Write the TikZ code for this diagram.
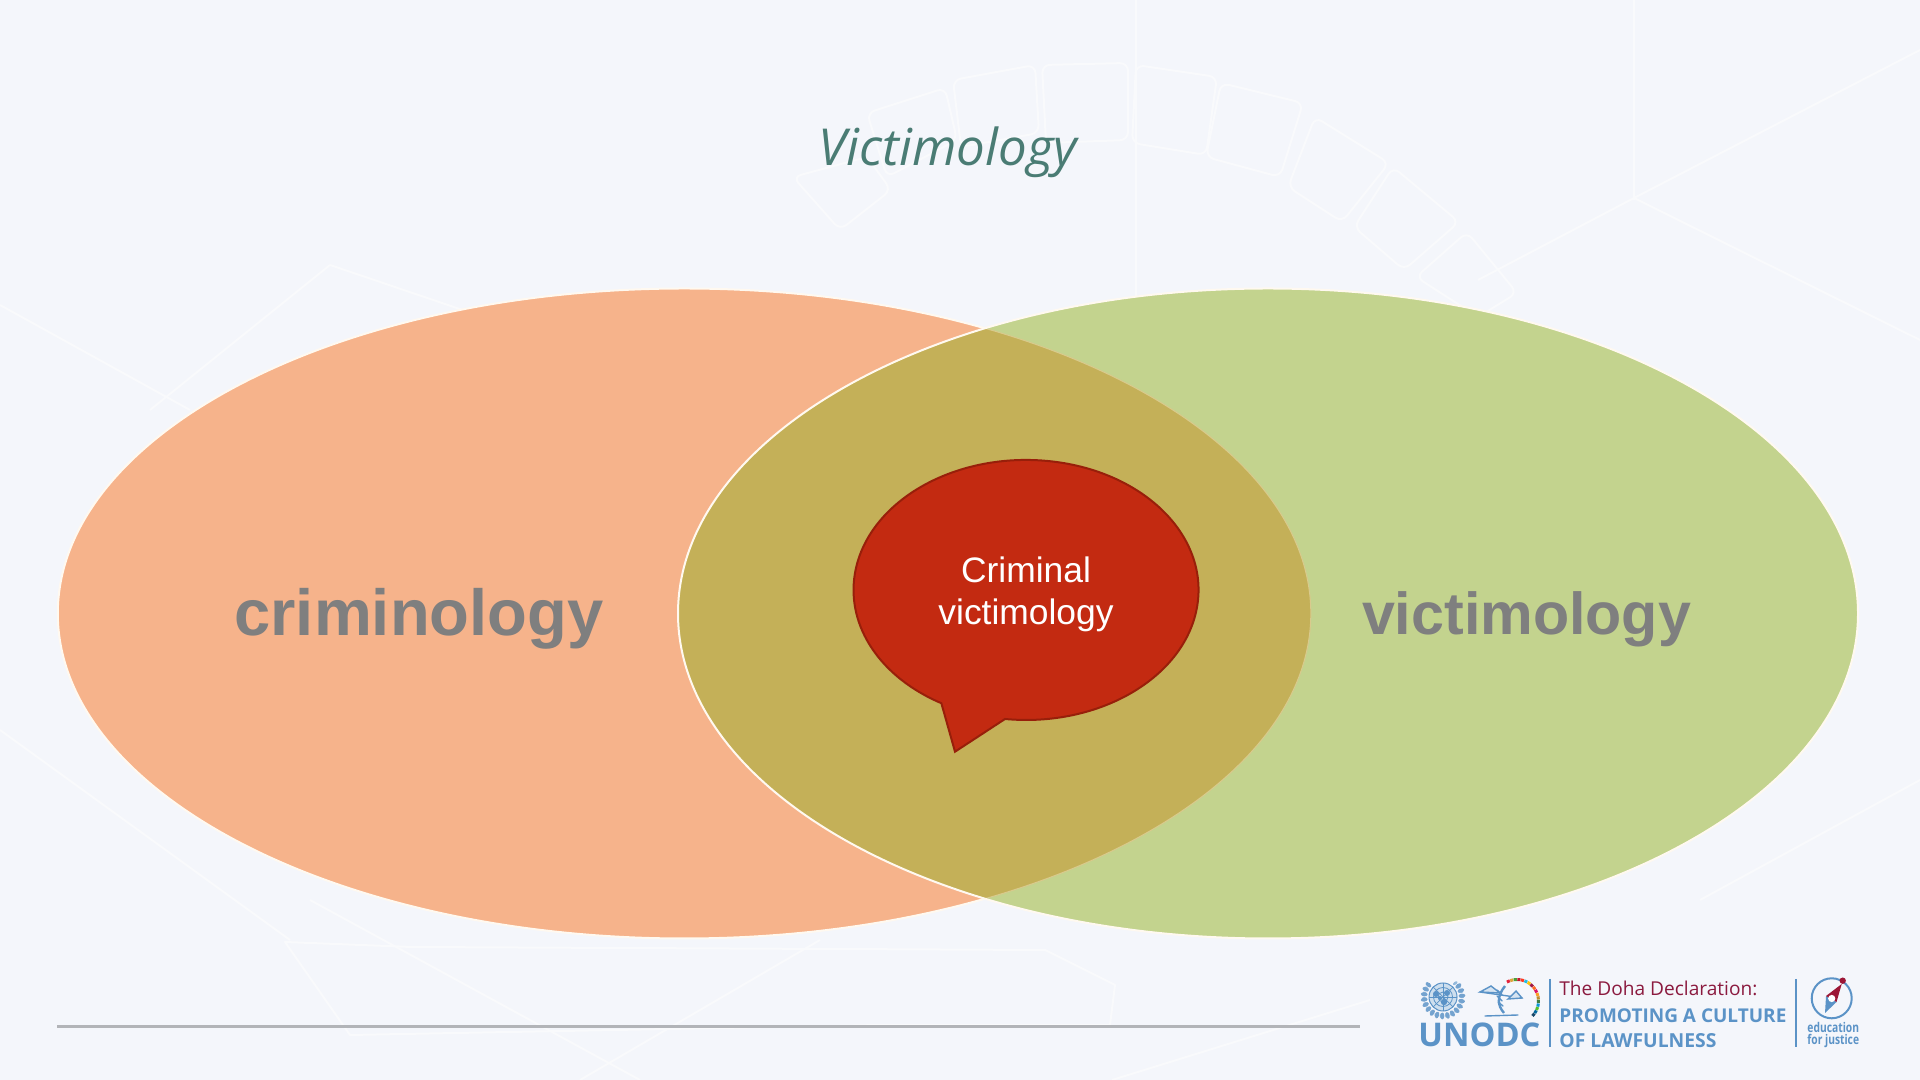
\documentclass[tikz,border=0pt]{standalone}
\usepackage{fontspec}
\usepackage{graphicx}
\setmainfont{Liberation Sans}
\newfontfamily\titlefont{Open Sans}
\newfontfamily\logofont{Open Sans}
\usetikzlibrary{shapes.geometric}
\definecolor{bgc}{HTML}{F4F6FB}
\definecolor{wmc}{HTML}{F9FAFC}
\definecolor{leftc}{HTML}{F6B38B}
\definecolor{rightc}{HTML}{C3D38E}
\definecolor{lensc}{HTML}{C4B058}
\definecolor{bubblec}{HTML}{C32A11}
\definecolor{bubbled}{HTML}{981F0A}
\definecolor{titlec}{HTML}{4A7C74}
\definecolor{grayt}{HTML}{7F7F7F}
\definecolor{ruleg}{HTML}{B2B4B8}
\definecolor{logob}{HTML}{5B93C7}
\definecolor{logor}{HTML}{8B1A3F}
\definecolor{edge}{HTML}{FFF9F0}
\definecolor{sa}{HTML}{E5243B}\definecolor{sb}{HTML}{DDA63A}\definecolor{sc}{HTML}{4C9F38}
\definecolor{sd}{HTML}{C5192D}\definecolor{se}{HTML}{FF3A21}\definecolor{sf}{HTML}{26BDE2}
\definecolor{sg}{HTML}{FCC30B}\definecolor{sh}{HTML}{A21942}\definecolor{si}{HTML}{FD6925}
\definecolor{sj}{HTML}{DD1367}\definecolor{sk}{HTML}{FD9D24}\definecolor{sl}{HTML}{BF8B2E}
\definecolor{sm}{HTML}{3F7E44}\definecolor{sn}{HTML}{0A97D9}\definecolor{so}{HTML}{56C02B}
\definecolor{sp}{HTML}{00689D}\definecolor{sq}{HTML}{19486A}
\newcommand{\fitw}[2]{\resizebox{#1\dimexpr0.5pt\relax}{!}{#2}}
\tikzset{
  x=0.5pt,y=0.5pt,
  venn/.style={ellipse,inner sep=0pt,outer sep=0pt,minimum height=325pt,draw=edge,line width=1pt},
  bigword/.style={anchor=base west,inner sep=0pt,text=grayt,font=\bfseries},
  logotext/.style={anchor=base west,inner sep=0pt},
  wm/.style={draw=wmc,line width=1pt,line join=round},
  logosep/.style={draw=logob,line width=1pt},
  logoline/.style={draw=logob,line width=0.7pt,line cap=round}
}
\begin{document}
\begin{tikzpicture}
\useasboundingbox (0,0) rectangle (1920,1080);
\fill[bgc] (0,0) rectangle (1920,1080);
% faint watermark (y = 1080 - Y)
\foreach \a/\b/\c/\d/\e/\f/\g/\h in {
 793/903/867/923/891/890/840/850,
 867/967/945/992/957/940/887/903,
 953/1000/1035/1015/1039/947/961/933,
 1042/1015/1128/1017/1128/940/1046/937,
 1136/1015/1217/1003/1206/925/1132/937,
 1221/997/1303/977/1280/903/1206/923,
 1315/963/1389/917/1342/858/1288/893,
 1393/913/1459/858/1404/810/1354/853,
 1467/848/1517/787/1478/763/1416/803}{
 \draw[wm,rounded corners=4pt] (\a,\b) -- (\c,\d) -- (\e,\f) -- (\g,\h) -- cycle;
}
\draw[wm] (1136,1080) -- (1136,760);
\draw[wm] (1634,1080) -- (1634,880);
\draw[wm] (1920,1030) -- (1634,882) -- (1478,800);
\draw[wm] (1634,882) -- (1920,740);
\draw[wm] (0,775) -- (190,670);
\draw[wm] (330,815) -- (150,670);
\draw[wm] (330,815) -- (610,720);
\draw[wm] (285,138) -- (412,133) -- (1045,130) -- (1115,95) -- (1110,55) -- (880,55) -- (350,45) -- cycle;
\draw[wm] (310,180) -- (640,0);
\draw[wm] (820,140) -- (580,0);
\draw[wm] (1370,80) -- (1112,0);
\draw[wm] (0,350) -- (290,140);
\draw[wm] (1920,300) -- (1700,180);

% Venn
\node[venn,fill=leftc,minimum width=626.5pt] (lefte) at (684.3,466.5) {};
\node[venn,draw=none,fill=rightc,minimum width=590pt] (righte) at (1268,466.5) {};
\begin{scope}
  \clip (1268,466.5) ellipse [x radius=590,y radius=325];
  \fill[lensc] (684.3,466.5) ellipse [x radius=626.5,y radius=325];
  \draw[color=lensc!65!edge,line width=0.5pt] (684.3,466.5) ellipse [x radius=626.5,y radius=325];
\end{scope}
\draw[edge,line width=1pt] (1268,466.5) ellipse [x radius=590,y radius=325];

% speech bubble
\draw[fill=bubblec,draw=bubbled,line width=1pt,line join=miter]
  (1005,361) arc [start angle=263,end angle=600.6,x radius=172.5,y radius=130]
  -- (955,328.3) -- cycle;
\node[inner sep=0pt,anchor=base,text=white,font=\fontsize{17.7pt}{17.7pt}\selectfont] (crim) at (1026,497) {Criminal};
\node[inner sep=0pt,anchor=base,text=white,font=\fontsize{17.7pt}{17.7pt}\selectfont] (vict) at (1026,455.5) {victimology};

% texts
\node[anchor=base west,inner sep=0pt,text=titlec] (title) at (818.5,914) {\fitw{258}{\titlefont\itshape\fontsize{24.5pt}{24.5pt}\selectfont Victimology}};
\node[bigword] (crimw) at (234,444.5) {\fitw{369}{\fontsize{32.5pt}{32.5pt}\selectfont criminology}};
\node[bigword] (victw) at (1361.6,445.5) {\fitw{329}{\fontsize{32.5pt}{32.5pt}\selectfont victimology}};

% footer rule
\draw[ruleg,line width=1.5pt] (57,53.4) -- (1360,53.4);

% logo separators
\draw[logosep] (1550,101) -- (1550,33);
\draw[logosep] (1795.6,101) -- (1795.6,33);

% UN emblem
\begin{scope}[shift={(1443,83)}]
  \fill[logob!30] (0,0) circle (14);
  \draw[logob,line width=0.5pt] (0,0) circle (14);
  \draw[logob,line width=0.4pt] (0,0) circle (9.5);
  \draw[logob,line width=0.4pt] (0,0) circle (5);
  \foreach \r in {0,45,...,315} \draw[logob,line width=0.35pt] (0,0) -- (\r:14);
  \fill[logob] (-7,3) circle (3) (4,4) circle (3) (1,-5) circle (3.2) (-3,-1) circle (2);
  \foreach \r in {-130,-114,...,130} {
    \fill[logob!85,rotate=\r] (0,-19) ellipse [x radius=2,y radius=3.4];
    \fill[logob!65,rotate=\r] (4,-18) ellipse [x radius=1.4,y radius=2.6];
  }
\end{scope}
\node[logotext,text=logob] (unodc) at (1418,33.3) {\fitw{122}{\logofont\bfseries\fontsize{15pt}{15pt}\selectfont UNODC}};

% scales and wheat
\draw[logoline] (1480,88) -- (1522,82);
\draw[logoline,fill=logob!25] (1480,88) -- (1491,94) -- (1500,87) -- cycle;
\draw[logoline,fill=logob!25] (1508,81) -- (1516,89) -- (1522,82) -- cycle;
\draw[logoline] (1485,64) -- (1518,65);
\draw[logob,line width=1.2pt] (1505,94) .. controls (1497,84) and (1497,75) .. (1504,67);
\draw[logoline] (1497,90) -- (1502,85) (1497,84) -- (1502,79) (1498,78) -- (1503,74);

% SDG arc
\foreach \i/\cc in {0/sa,1/sb,2/sc,3/sd,4/se,5/sf,6/sg,7/sh,8/si,9/sj,10/sk,11/sl,12/sm,13/sn,14/so,15/sp,16/sq}{
  \draw[\cc,line width=1.5pt] ({1517+21.5*cos(118-\i*9.6)},{79+21.5*sin(118-\i*9.6)}) arc [start angle={118-\i*9.6},end angle={118-\i*9.6-8.4},radius=21.5];
}

% Doha text
\node[logotext,text=logor] (doha) at (1559,84) {\fitw{198}{\logofont\fontsize{11pt}{11pt}\selectfont The Doha Declaration:}};
\node[logotext,text=logob] (prom) at (1559,57.3) {\fitw{227}{\logofont\bfseries\fontsize{11pt}{11pt}\selectfont PROMOTING A CULTURE}};
\node[logotext,text=logob] (oflaw) at (1559,32) {\fitw{157}{\logofont\fontsize{11pt}{11pt}\bfseries\selectfont OF LAWFULNESS}};

% compass
\draw[logob,line width=1pt] (1831.7,81.7) circle (20);
\fill[logob] (1825,67) -- (1826,84) -- (1836.5,78) -- cycle;
\fill[logor!85!red] (1841.7,96) -- (1826,84) -- (1836.5,78) -- cycle;
\fill[white] (1831.7,81.5) circle (3.6);
\fill[logor!85!red] (1842.7,99.3) circle (3.2);
\node[logotext,text=logob] (edu) at (1807,47.8) {\scalebox{1}[1.3]{\fitw{51.7}{\logofont\bfseries\fontsize{8pt}{8pt}\selectfont education}}};
\node[logotext,text=logob] (just) at (1807,35.2) {\scalebox{1}[1.3]{\fitw{51.7}{\logofont\bfseries\fontsize{8pt}{8pt}\selectfont for justice}}};
\end{tikzpicture}
\end{document}
